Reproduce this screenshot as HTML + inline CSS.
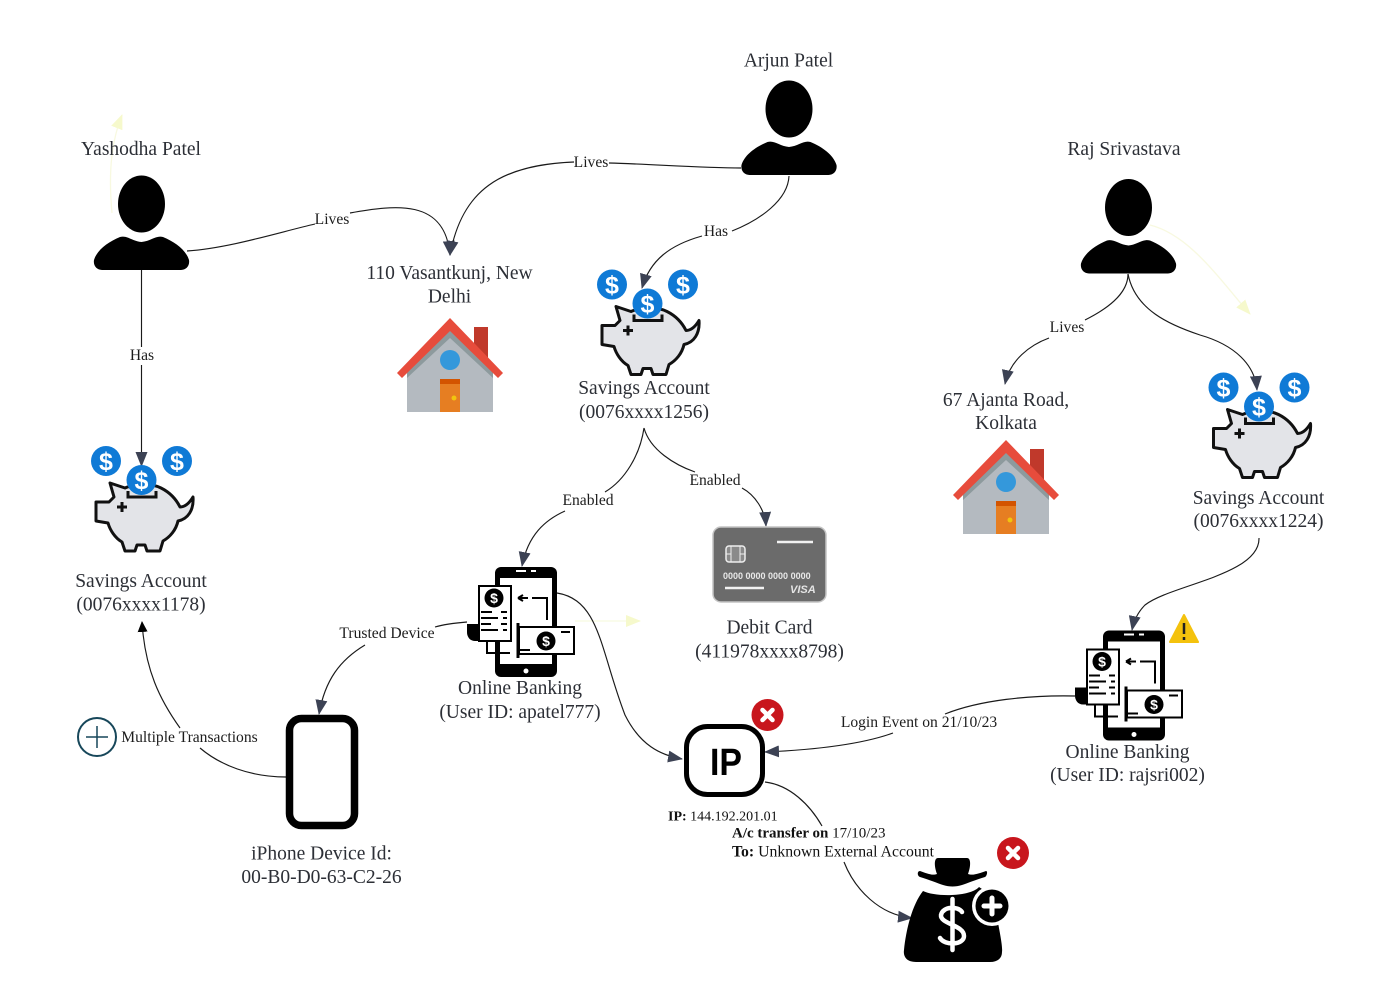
<!DOCTYPE html>
<html><head><meta charset="utf-8">
<style>
html,body{margin:0;padding:0;background:#fff;width:1400px;height:1001px;overflow:hidden}
svg{display:block}
.n{font-family:"Liberation Serif",serif;font-size:19.5px;fill:#2c2f36;text-anchor:middle}
.l{font-family:"Liberation Serif",serif;font-size:15.6px;fill:#1c1c1c;text-anchor:middle}
.s{font-family:"Liberation Serif",serif;fill:#111}
.e{fill:none;stroke:#1a1a1a;stroke-width:1.15}
.y{fill:none;stroke:#f8f9e0;stroke-width:1.3}
</style></head><body>
<svg width="1400" height="1001" viewBox="0 0 1400 1001" xmlns="http://www.w3.org/2000/svg">
<defs>
<marker id="a" markerWidth="16" markerHeight="12" refX="14" refY="6" orient="auto" markerUnits="userSpaceOnUse"><path d="M0 0L15 6L0 12Z" fill="#3c4254"/></marker>
<marker id="k" markerWidth="12" markerHeight="14" refX="10" refY="7" orient="auto" markerUnits="userSpaceOnUse"><path d="M0 2L11 7L0 12Z" fill="#000"/></marker>
<marker id="ya" markerWidth="16" markerHeight="12" refX="14" refY="6" orient="auto" markerUnits="userSpaceOnUse"><path d="M0 0L15 6L0 12Z" fill="#f6f9cc"/></marker>
<g id="person">
<ellipse cx="141.5" cy="204" rx="23.5" ry="28.5" fill="#000"/>
<path d="M94 260C97 250 108 242 120 237C127 235 132 241 141.5 242C151 241 156 235 163 237C175 242 186 250 189 260C190 266 186 270 181 270H102C97 270 93 266 94 260Z" fill="#000"/>
</g>
<g id="coin"><circle r="15" fill="#0f7ad6"/><text y="9" text-anchor="middle" font-family="Liberation Sans,sans-serif" font-weight="700" font-size="25" fill="#fff">$</text></g>
<g id="pig">
<path d="M96 502L109 502L114 497L110 483L125 488C136 483 151 483 161 488C171 493 177 501 180 507C186 507 190 502 193 497C194 510 188 519 178 521C176 530 170 537 163 541L160 551L147 551L145 545L137 545L135 551L125 551L122 542C115 538 110 530 108 523L96 521Z" fill="#e3e4e8" stroke="#111" stroke-width="3" stroke-linejoin="round"/>
<path d="M128 491V497H156V491" fill="none" stroke="#111" stroke-width="3"/>
<path d="M117 507H127M122 502V512" stroke="#111" stroke-width="3"/>
<use href="#coin" x="106" y="461"/><use href="#coin" x="177" y="461"/><use href="#coin" x="141.500" y="480"/>
</g>
<g id="house">
<path d="M474 327H488V362H474Z" fill="#c0392b"/>
<path d="M407 372L450 330L493 372V412H407Z" fill="#b4bac0"/>
<path d="M407 372L450 330L493 372V378L450 338L407 378Z" fill="#8d9a9d"/>
<path d="M397 373L450 318L503 373L498 378L450 331L402 378Z" fill="#e74c3c"/>
<circle cx="450" cy="360" r="10" fill="#3498db"/>
<rect x="440" y="379" width="20" height="33" fill="#e67e22"/><rect x="440" y="379" width="20" height="5" fill="#d35400"/>
<circle cx="454" cy="398" r="2.500" fill="#f1c40f"/>
</g>
<g id="bank">
<rect x="495" y="567" width="62" height="110" rx="6" fill="#000"/>
<rect x="500" y="578" width="52" height="86" fill="#fff"/>
<path d="M516 571H526M531 571H536" stroke="#fff" stroke-width="2"/>
<circle cx="526" cy="671" r="2.500" fill="#fff"/>
<path d="M467 624H478V641H475C470 641 467 637 467 632Z" fill="#000"/>
<rect x="479" y="586" width="32" height="55" fill="#fff" stroke="#000" stroke-width="2"/>
<circle cx="494" cy="598" r="9.500" fill="#000"/>
<text x="494" y="603" text-anchor="middle" font-family="Liberation Sans,sans-serif" font-weight="700" font-size="14" fill="#fff">$</text>
<path d="M481 612H492M501 612H507M481 618H498M503 618H507M481 624H491M501 624H507M481 630H498M503 630H507" stroke="#000" stroke-width="2"/>
<path d="M532 598H547V620M518 598H528M518 598L523 595M518 598L523 601" fill="none" stroke="#000" stroke-width="2"/>
<path d="M487 641V653H495M500 653H510" fill="none" stroke="#000" stroke-width="2"/>
<rect x="519" y="627" width="55" height="27" fill="#fff" stroke="#000" stroke-width="2"/>
<path d="M518 623V658" stroke="#000" stroke-width="3"/><path d="M519 650H530" stroke="#000" stroke-width="2"/>
<path d="M561 632H570" stroke="#000" stroke-width="2"/>
<circle cx="546" cy="641" r="9.500" fill="#000"/>
<text x="546" y="646" text-anchor="middle" font-family="Liberation Sans,sans-serif" font-weight="700" font-size="14" fill="#fff">$</text>
</g>
<g id="x"><circle r="16" fill="#c8161d"/><path d="M-5 -5L5 5M5 -5L-5 5" stroke="#fff" stroke-width="4.500" stroke-linecap="round"/></g>
</defs>
<rect width="1400" height="1001" fill="#fff"/>

<!-- pale edges -->
<path class="y" d="M112 213C108 170 112 140 122 115" marker-end="url(#ya)"/>
<path class="y" d="M1150 225C1190 235 1220 280 1250 314" marker-end="url(#ya)"/>
<path class="y" d="M575 621L640 621" marker-end="url(#ya)"/>

<!-- edges -->
<path class="e" d="M187 251C230 248 280 232 315 224"/>
<path class="e" d="M350 213C395 205 445 198 450 255" marker-end="url(#a)"/>
<path class="e" d="M741 168C700 168 650 164 609 163"/>
<path class="e" d="M574 162C500 165 462 190 450 255" marker-end="url(#a)"/>
<path class="e" d="M789 176C788 200 760 220 732 231"/>
<path class="e" d="M702 236C670 245 650 260 642 288" marker-end="url(#a)"/>
<path class="e" d="M141.500 270V347"/>
<path class="e" d="M141.500 365V466" marker-end="url(#a)"/>
<path class="e" d="M644 428C640 455 625 480 605 492"/>
<path class="e" d="M565 511C545 520 528 535 522 566" marker-end="url(#a)"/>
<path class="e" d="M644 428C650 450 675 465 695 472"/>
<path class="e" d="M742 488C755 495 765 510 766 526" marker-end="url(#a)"/>
<path class="e" d="M1128 274C1128 295 1105 310 1085 320"/>
<path class="e" d="M1049 338C1030 345 1010 360 1005 384" marker-end="url(#a)"/>
<path class="e" d="M1128 274C1135 310 1170 325 1200 335C1235 345 1255 365 1257 390" marker-end="url(#a)"/>
<path class="e" d="M1259 538C1260 575 1170 585 1145 605Q1135 615 1132 630" marker-end="url(#a)"/>
<path class="e" d="M467 622C455 623 445 624 435 627"/>
<path class="e" d="M365 645C340 660 325 680 319 714" marker-end="url(#a)"/>
<path class="e" d="M557 593C600 600 600 650 625 715C640 745 660 755 682 759" marker-end="url(#a)"/>
<path class="e" d="M1075 696C1030 695 980 700 945 714"/>
<path class="e" d="M893 733C860 745 810 750 765 752" marker-end="url(#a)"/>
<path class="e" d="M765 782C790 785 810 805 822 826"/>
<path class="e" d="M844 862C855 890 880 915 912 918" marker-end="url(#a)"/>
<path class="e" d="M286 777C250 777 220 765 200 748"/>
<path class="e" d="M180 728C160 700 145 670 142 622" marker-end="url(#k)"/>

<!-- persons -->
<use href="#person"/>
<use href="#person" x="647.500" y="-95"/>
<use href="#person" x="987" y="3.500"/>

<!-- pigs -->
<use href="#pig"/>
<use href="#pig" x="506" y="-176.500"/>
<use href="#pig" x="1117.500" y="-73.500"/>

<!-- houses -->
<use href="#house"/>
<use href="#house" x="556" y="122"/>

<!-- banking -->
<use href="#bank"/>
<use href="#bank" x="608" y="63.500"/>

<!-- card -->
<rect x="713" y="527" width="113" height="75" rx="8" fill="#6b6b6b" stroke="#c4c4c4" stroke-width="1.500"/>
<rect x="726" y="546" width="19" height="16" rx="3" fill="#8a8a8a" stroke="#eee" stroke-width="1.500"/>
<path d="M731 546V562M740 546V562M726 554H731M740 554H745" stroke="#eee" stroke-width="1"/>
<path d="M777 542H813M725 588H764" stroke="#f2f2f2" stroke-width="2.500"/>
<text x="723" y="579" font-family="Liberation Sans,sans-serif" font-size="9" font-weight="700" fill="#e8e8e8">0000 0000 0000 0000</text>
<text x="790" y="593" font-family="Liberation Sans,sans-serif" font-size="11" font-weight="700" font-style="italic" fill="#e4e4e4">VISA</text>

<!-- iPhone -->
<rect x="289.500" y="718.500" width="65" height="107" rx="12" fill="#fff" stroke="#000" stroke-width="7.500"/>

<!-- plus -->
<circle cx="97" cy="737" r="19" fill="#fff" stroke="#17475a" stroke-width="2"/>
<path d="M86 737H108M97 726V748" stroke="#17475a" stroke-width="1.500"/>

<!-- IP -->
<rect x="686.500" y="726.500" width="76" height="68" rx="21" fill="#fff" stroke="#000" stroke-width="5"/>
<text x="726" y="775" text-anchor="middle" font-family="Liberation Sans,sans-serif" font-weight="700" font-size="38" textLength="32" lengthAdjust="spacingAndGlyphs" fill="#000">IP</text>
<use href="#x" x="767.500" y="715"/>
<use href="#x" x="1013" y="853"/>

<!-- bag -->
<path d="M938 858H967C971 858 971 866 968 874C973 876 980 873 986 871C988 871 987 876 985 877C975 880 968 883 962 885C956 887 949 887 943 885C937 883 930 880 920 877C917 876 917 871 920 871C926 873 932 876 937 874C934 866 934 858 938 858Z" fill="#000"/>
<path d="M923 891C935 897 970 897 979 887C987 892 993 898 995 905C998 925 1003 945 1002 952C1002 958 998 962 990 962H916C907 962 903 957 904 950C906 930 912 905 923 891Z" fill="#000"/>
<circle cx="992" cy="906" r="20" fill="#fff"/>
<circle cx="992" cy="906" r="16.500" fill="#000"/>
<path d="M984 906H1000M992 898V914" stroke="#fff" stroke-width="5" stroke-linecap="round"/>
<path d="M962 912C958 906 943 906 941 915C940 924 964 925 964 936C964 945 945 946 940 938M952.500 899V950" fill="none" stroke="#fff" stroke-width="4.500" stroke-linecap="round"/>

<!-- warning -->
<path d="M1184 615L1198 642H1170Z" fill="#f4c20d" stroke="#f4c20d" stroke-width="2" stroke-linejoin="round"/>
<path d="M1184 623V634M1184 637V640" stroke="#222" stroke-width="2.500"/>

<!-- node labels -->
<text class="n" x="141" y="155">Yashodha Patel</text>
<text class="n" x="788.500" y="66.500">Arjun Patel</text>
<text class="n" x="1124" y="155">Raj Srivastava</text>
<text class="n" x="449.500" y="279">110 Vasantkunj, New</text>
<text class="n" x="449.500" y="302.500">Delhi</text>
<text class="n" x="644" y="394">Savings Account</text>
<text class="n" x="644" y="418">(0076xxxx1256)</text>
<text class="n" x="1006" y="406">67 Ajanta Road,</text>
<text class="n" x="1006" y="429">Kolkata</text>
<text class="n" x="1258.500" y="504">Savings Account</text>
<text class="n" x="1258.500" y="527">(0076xxxx1224)</text>
<text class="n" x="141" y="587">Savings Account</text>
<text class="n" x="141" y="610.500">(0076xxxx1178)</text>
<text class="n" x="769.500" y="633.500">Debit Card</text>
<text class="n" x="769.500" y="657.500">(411978xxxx8798)</text>
<text class="n" x="520" y="694">Online Banking</text>
<text class="n" x="520" y="718">(User ID: apatel777)</text>
<text class="n" x="1127.500" y="758">Online Banking</text>
<text class="n" x="1127.500" y="781">(User ID: rajsri002)</text>
<text class="n" x="321.500" y="859.500">iPhone Device Id:</text>
<text class="n" x="321.500" y="883">00-B0-D0-63-C2-26</text>

<!-- edge labels -->
<text class="l" x="332" y="224">Lives</text>
<text class="l" x="591" y="167">Lives</text>
<text class="l" x="716" y="236">Has</text>
<text class="l" x="142" y="360">Has</text>
<text class="l" x="588" y="505">Enabled</text>
<text class="l" x="715" y="485">Enabled</text>
<text class="l" x="1067" y="332">Lives</text>
<text class="l" x="387" y="638">Trusted Device</text>
<text class="l" x="919" y="727">Login Event on 21/10/23</text>
<text class="l" x="189.500" y="742">Multiple Transactions</text>

<text class="s" x="668" y="820.500" font-size="14"><tspan font-weight="700">IP:</tspan> 144.192.201.01</text>
<text class="s" x="732" y="837.500" font-size="15"><tspan font-weight="700">A/c transfer on</tspan> 17/10/23</text>
<text class="s" x="732" y="856.500" font-size="15.750"><tspan font-weight="700">To:</tspan> Unknown External Account</text>
</svg>
</body></html>
